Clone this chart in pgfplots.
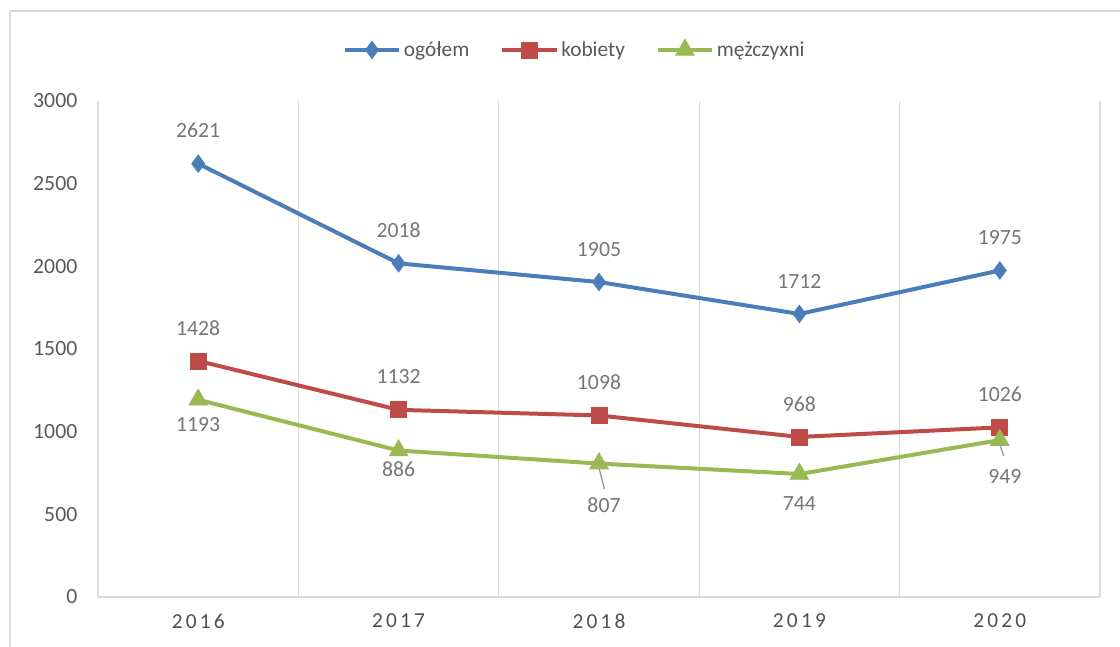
\documentclass[border=0pt]{standalone}
\usepackage{pgfplots}
\pgfplotsset{compat=1.18}
\usepackage{fontspec}
\setmainfont{Carlito}
\newfontfamily\spaced[LetterSpace=15]{Carlito}
\definecolor{cblue}{HTML}{4A7EBB}
\definecolor{cred}{HTML}{BE4B48}
\definecolor{cgreen}{HTML}{98B954}
\definecolor{ctext}{HTML}{595959}
\definecolor{clabel}{HTML}{767676}
\definecolor{cgrid}{HTML}{D9D9D9}
\begin{document}
\begin{tikzpicture}
\useasboundingbox (-73.5pt,-36.75pt) rectangle (766.5pt,447.75pt);
\draw[cgrid, line width=1.2pt] (-66pt,-40pt) -- (-66pt,439.5pt) -- (770pt,439.5pt);
\begin{axis}[
  at={(0pt,0pt)}, anchor=south west,
  scale only axis, width=751.5pt, height=372pt,
  xmin=0.5, xmax=5.5, ymin=0, ymax=3000,
  xtick={1,2,3,4,5},
  xticklabels={2016,2017,2018,2019,2020},
  minor xtick={1.5,2.5,3.5,4.5,5.5},
  minor x grid style={cgrid, line width=0.9pt},
  xminorgrids,
  ytick={0,500,...,3000},
  major tick length=0pt, minor tick length=0pt,
  axis x line*=bottom, axis y line*=left,
  axis line style={cgrid, line width=0.9pt, -},
  /pgf/number format/assume math mode=true,
  /pgf/number format/set thousands separator={},
  tick label style={font=\fontsize{16.3}{19}\selectfont, text=ctext},
  xticklabel style={font=\spaced\fontsize{16}{19}\selectfont, text=ctext!90!black, yshift=-9pt},
  yticklabel style={xshift=-12pt},
  legend columns=3,
  legend style={at={(0.476,1.103)}, anchor=center, draw=none, fill=none,
    font=\fontsize{16}{19}\selectfont, text=ctext,
    /tikz/every even column/.append style={column sep=21pt}},
  legend cell align=left,
  legend image code/.code={\draw[mark repeat=2,mark phase=2] plot coordinates {(0pt,0pt) (20.5pt,0pt) (41pt,0pt)};},
  nodes near coords,
  point meta=explicit symbolic,
  visualization depends on={\thisrow{dy} \as \dy},
  visualization depends on={\thisrow{dx} \as \dx},
  every node near coord/.append style={anchor=center, yshift=\dy pt, xshift=\dx pt,
    font=\fontsize{16.3}{19}\selectfont, text=clabel},
]
\addplot[cblue, line width=3pt, mark=diamond*, mark size=6.5pt, mark options={solid, line width=0.6pt}]
  table[x=x, y=y, meta=y] {
x y dy dx
1 2621 24.75 0
2 2018 24.75 0
3 1905 24.75 0
4 1712 24.75 0
5 1975 24.75 0
};
\addlegendentry{ogółem}
\addplot[cred, line width=3pt, mark=square*, mark size=6pt, mark options={solid, line width=0.6pt}]
  table[x=x, y=y, meta=y] {
x y dy dx
1 1428 24.75 0
2 1132 24.75 0
3 1098 24.75 0
4 968 24.75 0
5 1026 24.75 0
};
\addlegendentry{kobiety}
\addplot[cgreen, line width=3pt, mark=triangle*, mark size=8pt, mark options={solid, line width=0.6pt}]
  table[x=x, y=y, meta=y] {
x y dy dx
1 1193 -18.75 0
2 886 -14.25 0
3 807 -31.5 3.75
4 744 -22.5 0
5 949 -27 3.75
};
\addlegendentry{mężczyxni}
\draw[clabel!80, line width=0.9pt] (axis cs:3,807) ++(0pt,-3pt) -- ++(4pt,-16pt);
\draw[clabel!80, line width=0.9pt] (axis cs:5,949) ++(0pt,-3pt) -- ++(3pt,-9pt);
\end{axis}
\end{tikzpicture}
\end{document}
